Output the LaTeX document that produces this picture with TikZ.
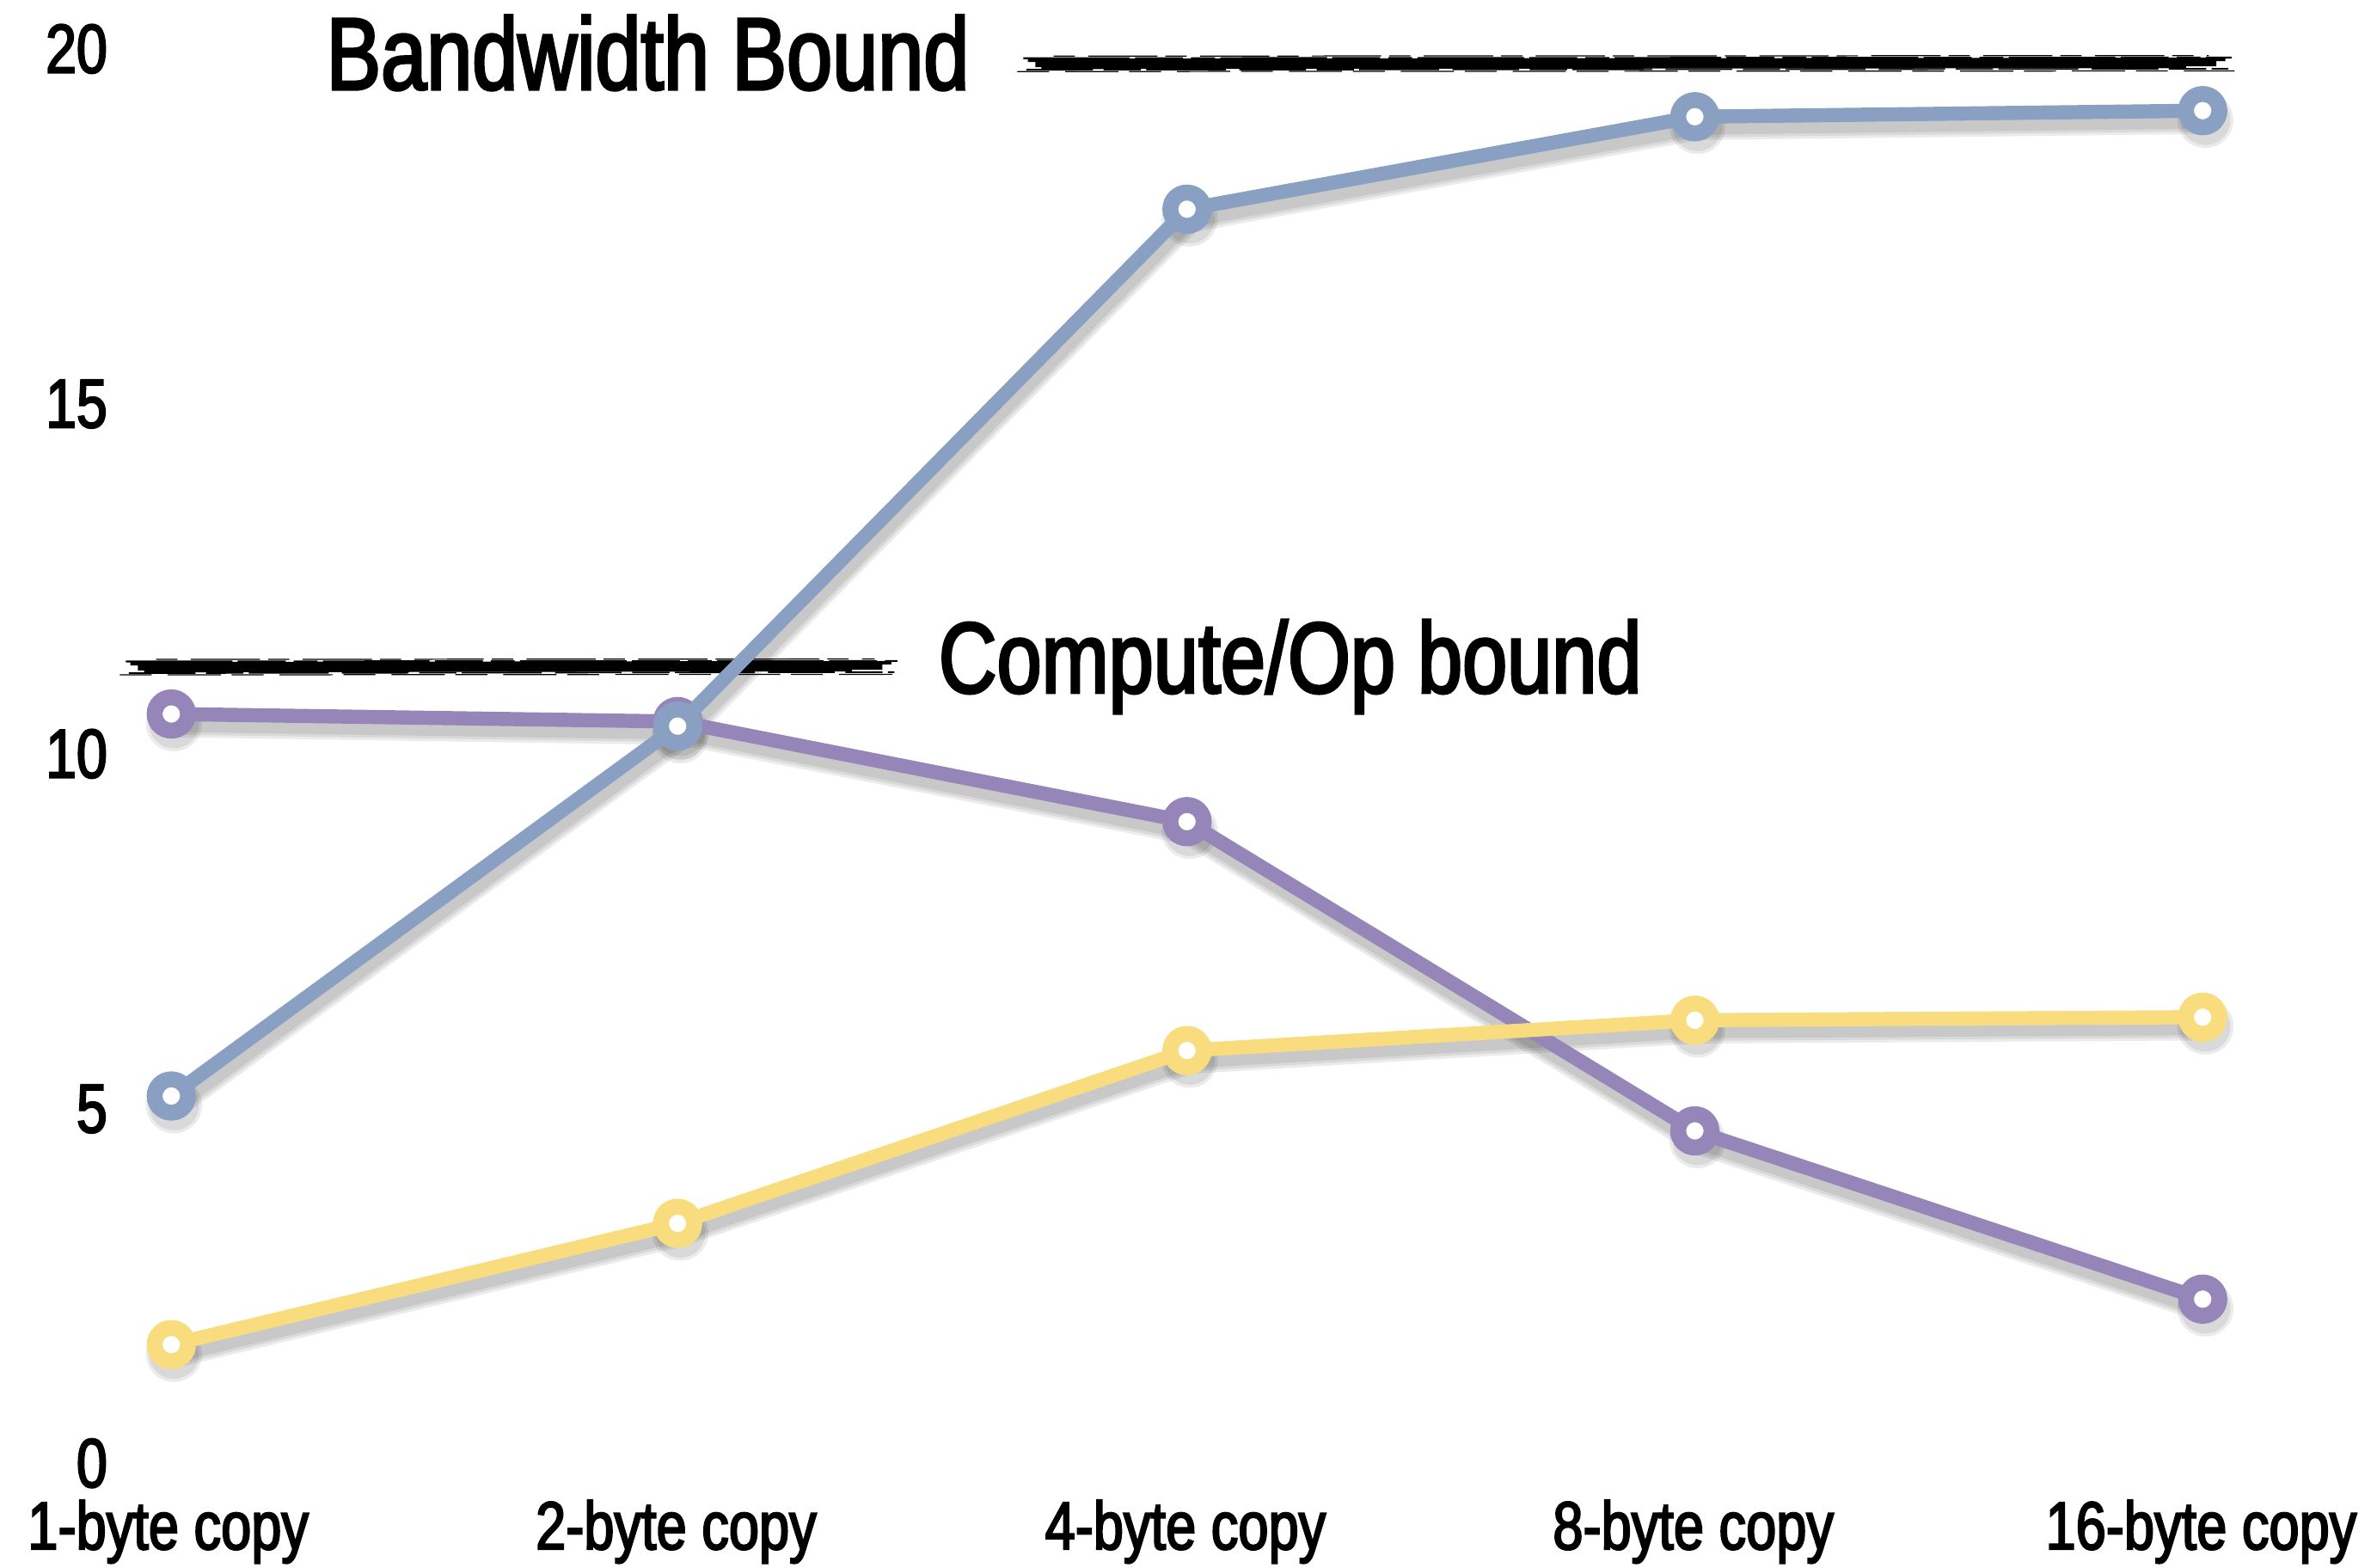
\documentclass[tikz,border=0pt]{standalone}
\usepackage{fontspec}
\setmainfont{Liberation Sans}[FakeStretch=0.8,FakeBold=2.6]
\definecolor{cblue}{HTML}{8AA0C2}
\definecolor{cpurple}{HTML}{9585B9}
\definecolor{cyellow}{HTML}{F9DC7E}
\newcommand{\brushline}[3]{%
  \draw[line width=2.6pt] (#1+8,#3) -- (#2-10,#3-0.5);
  \draw[line width=1.3pt] (#1+3,#3-2.2) -- (#2-4,#3-2.8);
  \draw[line width=1.3pt] (#1+12,#3+2.4) -- (#2-30,#3+1.8);
  \draw[line width=0.7pt, dash pattern=on 40pt off 2pt on 18pt off 3pt on 9pt off 2pt] (#1,#3-3.6) -- (#2,#3-4);
  \draw[line width=0.6pt, dash pattern=on 25pt off 4pt on 14pt off 2pt on 30pt off 5pt] (#1+2,#3+4) -- (#2-2,#3+3.4);
  \draw[line width=0.4pt, dash pattern=on 12pt off 6pt on 20pt off 4pt] (#1-4,#3+5.2) -- (#2+2,#3+4.8);
  \draw[line width=0.4pt, dash pattern=on 8pt off 5pt on 26pt off 3pt] (#1+20,#3-5) -- (#2-15,#3-5.3);
}
\begin{document}
\begin{tikzpicture}[x=0.02cm,y=-0.02cm,
  ser/.style={line width=5.3pt, line join=round, line cap=round},
  shad/.style={line width=#1, draw=black, opacity=0.08, line join=round, line cap=round},
  mk/.style={circle, draw=#1, fill=white, line width=0.21cm, minimum size=0.44cm, inner sep=0pt},
  mkshad/.style={circle, fill=black, opacity=0.08, minimum size=#1, inner sep=0pt},
  tick/.style={font=\fontsize{26}{28}\selectfont, anchor=base east},
  xlab/.style={font=\fontsize{25.5}{28}\selectfont, anchor=base},
  title/.style={font=\fontsize{38.5}{40}\selectfont, anchor=base west}]
\useasboundingbox (0,0) rectangle (1568,1034);

% data points
\coordinate (b1) at (113,723);
\coordinate (b2) at (447,479);
\coordinate (b3) at (783,138);
\coordinate (b4) at (1118,77);
\coordinate (b5) at (1453,73);
\coordinate (p1) at (113,471);
\coordinate (p2) at (447,476);
\coordinate (p3) at (783,542);
\coordinate (p4) at (1118,746);
\coordinate (p5) at (1453,857);
\coordinate (y1) at (113,887);
\coordinate (y2) at (447,807);
\coordinate (y3) at (783,693);
\coordinate (y4) at (1118,673);
\coordinate (y5) at (1453,671);

% brush strokes
\brushline{675}{1472}{42}
\brushline{83}{592}{440}

% labels
\node[tick] (t20) at (77,48) {20};
\node[tick] (t15) at (77,282) {15};
\node[tick] (t10) at (77,513) {10};
\node[tick] (t5) at (77,747) {5};
\node[tick] (t0) at (77,981) {0};
\node[xlab] (x1) at (111,1022) {1-byte copy};
\node[xlab] (x2) at (446,1022) {2-byte copy};
\node[xlab] (x3) at (782,1022) {4-byte copy};
\node[xlab] (x4) at (1117,1022) {8-byte copy};
\node[xlab] (x5) at (1452,1022) {16-byte copy};
\node[title] (bw) at (209,59) {Bandwidth Bound};
\node[title, font=\fontsize{37.8}{40}\selectfont] (cp) at (613,457) {Compute/Op bound};

% shadows
\begin{scope}[transform canvas={xshift=1pt,yshift=-3.5pt}]
  \foreach \w in {10.5pt,8.5pt,6.5pt}{
    \draw[shad=\w] (p1)--(p2)--(p3)--(p4)--(p5);
    \draw[shad=\w] (y1)--(y2)--(y3)--(y4)--(y5);
    \draw[shad=\w] (b1)--(b2)--(b3)--(b4)--(b5);
  }
  \foreach \c in {p1,p2,p3,p4,p5,y1,y2,y3,y4,y5,b1,b2,b3,b4,b5}{
    \node[mkshad=0.74cm] at (\c) {};
    \node[mkshad=0.66cm] at (\c) {};
  }
\end{scope}

% series
\draw[ser, cpurple] (p1)--(p2)--(p3)--(p4)--(p5);
\foreach \c in {p1,p2,p3,p4,p5}{\node[mk=cpurple] (m\c) at (\c) {};}
\draw[ser, cyellow] (y1)--(y2)--(y3)--(y4)--(y5);
\foreach \c in {y1,y2,y3,y4,y5}{\node[mk=cyellow] (m\c) at (\c) {};}
\draw[ser, cblue] (b1)--(b2)--(b3)--(b4)--(b5);
\foreach \c in {b1,b2,b3,b4,b5}{\node[mk=cblue] (m\c) at (\c) {};}
\end{tikzpicture}
\end{document}
